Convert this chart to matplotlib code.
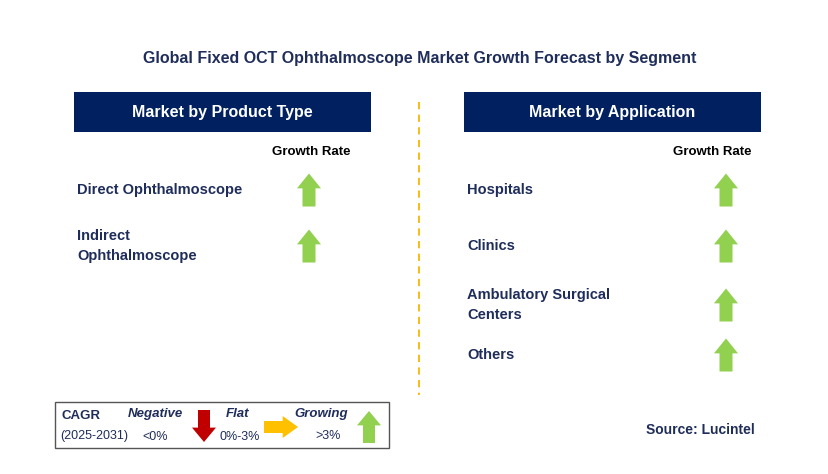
import matplotlib
matplotlib.use("Agg")
import matplotlib.pyplot as plt
from matplotlib.patches import Rectangle, Polygon

plt.rcParams["font.family"] = "Liberation Sans"

title = "Global Fixed OCT Ophthalmoscope Market Growth Forecast by Segment"
left_header = "Market by Product Type"
right_header = "Market by Application"
product_types = ["Direct Ophthalmoscope", "Indirect\nOphthalmoscope"]
product_y = [190, 246]
applications = ["Hospitals", "Clinics", "Ambulatory Surgical\nCenters", "Others"]
app_y = [190, 246, 305, 355]
trend = "up"

navy = "#002060"
text_c = "#1F2D5A"
green = "#92D050"

fig = plt.figure(figsize=(8.29, 4.74), dpi=100)
ax = fig.add_axes([0, 0, 1, 1])
ax.set_xlim(0, 829)
ax.set_ylim(474, 0)
ax.axis("off")


def arrow(cx, cy, color, direction="up", w=24, h=33, shaft=13):
    hh = h * 0.45
    if direction == "up":
        top, bot = cy - h / 2, cy + h / 2
        pts = [(cx, top), (cx + w / 2, top + hh), (cx + shaft / 2, top + hh),
               (cx + shaft / 2, bot), (cx - shaft / 2, bot), (cx - shaft / 2, top + hh),
               (cx - w / 2, top + hh)]
    elif direction == "down":
        top, bot = cy - h / 2, cy + h / 2
        pts = [(cx, bot), (cx + w / 2, bot - hh), (cx + shaft / 2, bot - hh),
               (cx + shaft / 2, top), (cx - shaft / 2, top), (cx - shaft / 2, bot - hh),
               (cx - w / 2, bot - hh)]
    else:
        l, r = cx - h / 2, cx + h / 2
        pts = [(r, cy), (r - hh, cy - w / 2), (r - hh, cy - shaft / 2),
               (l, cy - shaft / 2), (l, cy + shaft / 2), (r - hh, cy + shaft / 2),
               (r - hh, cy + w / 2)]
    ax.add_patch(Polygon(pts, closed=True, color=color, lw=0))


ax.text(420, 58, title, ha="center", va="center", fontsize=11.5, fontweight="bold", color=text_c)

# headers
for x0, label in [(74, left_header), (464, right_header)]:
    ax.add_patch(Rectangle((x0, 92), 297, 40, color=navy, lw=0))
    ax.text(x0 + 148, 112, label, ha="center", va="center", fontsize=11.5,
            fontweight="bold", color="white")

ax.plot([419, 419], [102, 395], color="#F5B800", lw=1.3, ls=(0, (4, 3)))

ax.text(311, 152, "Growth Rate", ha="center", va="center", fontsize=9.5, fontweight="bold", color="black")
ax.text(712, 152, "Growth Rate", ha="center", va="center", fontsize=9.5, fontweight="bold", color="black")

for lab, y in zip(product_types, product_y):
    ax.text(77, y, lab, ha="left", va="center", fontsize=10.5, fontweight="bold",
            color=text_c, linespacing=1.6)
    arrow(309, y, green, trend)

for lab, y in zip(applications, app_y):
    ax.text(467, y, lab, ha="left", va="center", fontsize=10.5, fontweight="bold",
            color=text_c, linespacing=1.6)
    arrow(726, y, green, trend)

# legend box
ax.add_patch(Rectangle((55, 402), 334, 46, fill=False, ec="#555555", lw=1))
ax.text(62, 416, "CAGR", fontsize=9.5, fontweight="bold", color=text_c, va="center")
ax.text(60, 436, "(2025-2031)", fontsize=9, color=text_c, va="center")
ax.text(155, 414, "Negative", fontsize=9.5, fontweight="bold", style="italic", color=text_c, ha="center", va="center")
ax.text(155, 437, "<0%", fontsize=9, color=text_c, ha="center", va="center")
arrow(204, 426, "#C00000", "down", w=24, h=32, shaft=12)
ax.text(238, 414, "Flat", fontsize=9.5, fontweight="bold", style="italic", color=text_c, ha="center", va="center")
ax.text(240, 437, "0%-3%", fontsize=9, color=text_c, ha="center", va="center")
arrow(281, 427, "#FFC000", "right", w=22, h=34, shaft=12)
ax.text(321, 414, "Growing", fontsize=9.5, fontweight="bold", style="italic", color=text_c, ha="center", va="center")
ax.text(328, 436, ">3%", fontsize=9, color=text_c, ha="center", va="center")
arrow(369, 427, green, "up", w=24, h=32, shaft=12)

ax.text(700, 430, "Source: Lucintel", ha="center", va="center", fontsize=10,
        fontweight="bold", color=text_c)

fig.savefig("out.png", dpi=100)
